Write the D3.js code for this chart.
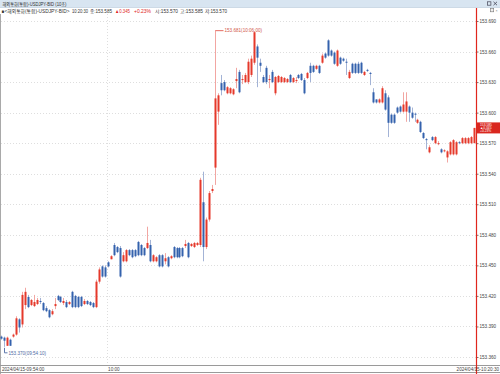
<!DOCTYPE html>
<html>
<head>
<meta charset="utf-8">
<script src="https://cdn.jsdelivr.net/npm/d3@7"></script>
<style>
  html, body { margin: 0; padding: 0; background: #fff; }
  svg { display: block; font-family: "Liberation Sans", "Noto Sans CJK KR", sans-serif; }
</style>
</head>
<body>
<script>
// 10s candles, USDJPY BID, 09:54:00 .. 10:20:30 (160 bars)
const opens = [
  153.380,153.379,153.371,153.377,153.380,153.382,153.397,153.392,153.411,153.419,
  153.411,153.410,153.412,153.415,153.413,153.408,153.406,153.402,153.410,153.420,
  153.419,153.413,153.414,153.412,153.424,153.420,153.419,153.419,153.412,153.415,
  153.414,153.413,153.409,153.434,153.449,153.448,153.453,153.456,153.470,153.468,
  153.467,153.454,153.454,153.465,153.465,153.465,153.473,153.470,153.467,153.467,
  153.470,153.454,153.454,153.460,153.460,153.454,153.458,153.457,153.468,153.467,
  153.467,153.467,153.469,153.472,153.469,153.468,153.470,153.470,153.512,153.468,
  153.495,153.523,153.546,153.601,153.629,153.630,153.619,153.619,153.618,153.631,
  153.640,153.632,153.630,153.630,153.637,153.649,153.665,153.649,153.635,153.644,
  153.632,153.640,153.619,153.630,153.630,153.630,153.630,153.637,153.630,153.632,
  153.637,153.638,153.632,153.634,153.646,153.646,153.643,153.646,153.649,153.658,
  153.671,153.661,153.659,153.646,153.654,153.653,153.650,153.634,153.648,153.648,
  153.648,153.649,153.637,153.642,153.639,153.620,153.613,153.610,153.610,153.619,
  153.615,153.598,153.598,153.605,153.606,153.601,153.601,153.606,153.600,153.599,
  153.590,153.591,153.580,153.574,153.561,153.576,153.570,153.570,153.564,153.562,
  153.556,153.559,153.559,153.559,153.571,153.570,153.570,153.570,153.570,153.570
];
const highs = [
  153.381,153.380,153.380,153.378,153.383,153.400,153.398,153.424,153.428,153.421,
  153.417,153.421,153.418,153.418,153.414,153.410,153.407,153.407,153.418,153.421,
  153.420,153.418,153.416,153.415,153.425,153.421,153.420,153.420,153.417,153.416,
  153.415,153.414,153.436,153.448,153.450,153.450,153.454,153.460,153.472,153.469,
  153.469,153.463,153.466,153.466,153.466,153.466,153.474,153.471,153.468,153.488,
  153.475,153.461,153.459,153.461,153.461,153.462,153.459,153.460,153.469,153.468,
  153.468,153.468,153.475,153.473,153.472,153.473,153.473,153.536,153.542,153.497,
  153.523,153.529,153.681,153.619,153.637,153.632,153.626,153.625,153.624,153.644,
  153.642,153.637,153.639,153.653,153.656,153.680,153.667,153.653,153.637,153.646,
  153.637,153.642,153.636,153.637,153.636,153.635,153.634,153.638,153.635,153.635,
  153.638,153.639,153.634,153.640,153.649,153.647,153.647,153.647,153.658,153.659,
  153.672,153.662,153.660,153.662,153.655,153.654,153.653,153.642,153.649,153.649,
  153.650,153.650,153.641,153.643,153.640,153.624,153.613,153.614,153.626,153.622,
  153.617,153.599,153.599,153.606,153.607,153.620,153.620,153.607,153.605,153.600,
  153.594,153.592,153.581,153.575,153.568,153.577,153.577,153.572,153.565,153.564,
  153.563,153.572,153.574,153.572,153.572,153.576,153.576,153.576,153.577,153.585
];
const lows = [
  153.377,153.370,153.371,153.371,153.379,153.381,153.384,153.389,153.407,153.408,
  153.410,153.409,153.411,153.412,153.405,153.404,153.398,153.401,153.407,153.415,
  153.413,153.411,153.408,153.411,153.408,153.408,153.408,153.409,153.411,153.411,
  153.410,153.408,153.408,153.432,153.438,153.438,153.448,153.456,153.459,153.462,
  153.438,153.453,153.453,153.459,153.457,153.458,153.459,153.459,153.459,153.466,
  153.453,153.453,153.453,153.448,153.448,153.451,153.448,153.456,153.457,153.457,
  153.457,153.458,153.467,153.457,153.468,153.467,153.469,153.468,153.454,153.466,
  153.493,153.521,153.529,153.588,153.617,153.621,153.618,153.618,153.617,153.624,
  153.619,153.628,153.629,153.628,153.635,153.647,153.625,153.640,153.629,153.628,
  153.624,153.629,153.617,153.629,153.629,153.629,153.629,153.629,153.629,153.629,
  153.633,153.631,153.618,153.633,153.630,153.639,153.642,153.638,153.648,153.653,
  153.655,153.655,153.647,153.645,153.647,153.650,153.637,153.633,153.638,153.638,
  153.638,153.638,153.636,153.640,153.627,153.609,153.609,153.609,153.609,153.602,
  153.576,153.589,153.589,153.599,153.600,153.600,153.591,153.591,153.594,153.591,
  153.589,153.580,153.574,153.564,153.560,153.572,153.569,153.568,153.560,153.561,
  153.551,153.558,153.558,153.558,153.569,153.569,153.569,153.569,153.569,153.570
];
const closes = [
  153.378,153.376,153.379,153.371,153.382,153.398,153.389,153.421,153.424,153.409,
  153.416,153.414,153.416,153.414,153.406,153.405,153.399,153.405,153.412,153.416,
  153.414,153.415,153.409,153.414,153.409,153.409,153.409,153.410,153.415,153.412,
  153.411,153.409,153.434,153.446,153.439,153.439,153.449,153.459,153.460,153.463,
  153.439,153.460,153.465,153.460,153.458,153.459,153.460,153.460,153.460,153.472,
  153.454,153.460,153.458,153.449,153.449,153.457,153.449,153.459,153.458,153.458,
  153.458,153.459,153.471,153.458,153.471,153.472,153.472,153.534,153.468,153.495,
  153.521,153.525,153.614,153.617,153.622,153.622,153.625,153.624,153.623,153.633,
  153.620,153.633,153.637,153.650,153.653,153.679,153.654,153.646,153.630,153.630,
  153.633,153.630,153.635,153.636,153.635,153.634,153.633,153.630,153.634,153.632,
  153.634,153.632,153.619,153.639,153.639,153.640,153.646,153.639,153.656,153.654,
  153.656,153.656,153.648,153.661,153.648,153.651,153.649,153.640,153.639,153.639,
  153.639,153.639,153.640,153.641,153.638,153.610,153.610,153.613,153.624,153.603,
  153.590,153.590,153.590,153.600,153.601,153.608,153.611,153.600,153.595,153.598,
  153.593,153.581,153.575,153.573,153.566,153.573,153.576,153.570,153.561,153.563,
  153.562,153.571,153.573,153.571,153.570,153.575,153.575,153.575,153.576,153.585
];

const yTicks = [153.360,153.390,153.420,153.450,153.480,153.510,153.540,153.570,153.600,153.630,153.660,153.690];
const xTickIndex = [0, 36, 159];
const xTickText = ['2024/04/15-09:54:00', '10:00', '2024/04/15-10:20:30'];

const highMark = { i: 72, text: '153.681(10:06:00)' };
const lowMark = { i: 1, text: '153.370(09:54:10)' };

const W = 500, H = 374;
const plotRight = 476;
const axisY = 365;

const UP = '#e5392b', DOWN = '#3462ad';
const UP_WICK = '#f2a6a2', DOWN_WICK = '#a3b3d6';

const svg = d3.select('body').append('svg')
  .attr('width', W).attr('height', H);

svg.append('rect').attr('width', W).attr('height', H).attr('fill', '#fff');

//scales
const x = d3.scaleBand().domain(d3.range(opens.length)).range([0, plotRight]);
const y = d3.scaleLinear().domain([153.360, 153.690]).range([357, 21]);
const cx = i => Math.floor(x(i) + x.bandwidth() / 2) + 0.5;

//grid
svg.append('g')
  .selectAll('line')
  .data(yTicks)
  .enter().append('line')
  .attr('x1', 1).attr('x2', plotRight)
  .attr('y1', d => Math.round(y(d)) + 0.5).attr('y2', d => Math.round(y(d)) + 0.5)
  .attr('stroke', '#dedede').attr('stroke-dasharray', '1,2');

svg.append('line')
  .attr('x1', Math.round(x(36)) + 0.5).attr('x2', Math.round(x(36)) + 0.5)
  .attr('y1', 14).attr('y2', axisY)
  .attr('stroke', '#dedede').attr('stroke-dasharray', '1,2');

//frame
svg.append('line').attr('x1', 0.5).attr('x2', 0.5).attr('y1', 14).attr('y2', H)
  .attr('stroke', '#a9a9a9');
svg.append('line').attr('x1', 0).attr('x2', W).attr('y1', axisY + 0.5).attr('y2', axisY + 0.5)
  .attr('stroke', '#9a9a9a');
svg.append('line').attr('x1', 0).attr('x2', W).attr('y1', H - 1.5).attr('y2', H - 1.5)
  .attr('stroke', '#9a9a9a');

//candles
const bars = svg.append('g').selectAll('g')
  .data(d3.range(opens.length))
  .enter().append('g');

bars.append('line')
  .attr('x1', cx).attr('x2', cx)
  .attr('y1', i => y(highs[i])).attr('y2', i => y(lows[i]))
  .attr('stroke', i => closes[i] >= opens[i] ? UP_WICK : DOWN_WICK)
  .attr('stroke-width', 1);

bars.append('rect')
  .attr('x', i => cx(i) - 1)
  .attr('width', 2)
  .attr('y', i => y(Math.max(opens[i], closes[i])))
  .attr('height', i => Math.max(1, Math.abs(y(opens[i]) - y(closes[i]))))
  .attr('fill', i => closes[i] >= opens[i] ? UP : DOWN);

//high / low marks
const hx = cx(highMark.i), hy = y(highs[highMark.i]);
svg.append('path')
  .attr('d', `M${hx},${hy + 0.5}H${hx + 8}`)
  .attr('stroke', '#e46a60').attr('fill', 'none');
svg.append('text')
  .attr('x', hx + 9).attr('y', hy + 1.8)
  .attr('font-size', 4.6).attr('fill', '#d2574c')
  .text(highMark.text);

const lx = cx(lowMark.i), ly = y(lows[lowMark.i]);
svg.append('path')
  .attr('d', `M${lx},${ly + 1}V${ly + 6}H${lx + 3}`)
  .attr('stroke', '#5f79ad').attr('fill', 'none');
svg.append('text')
  .attr('x', lx + 4).attr('y', ly + 7.8)
  .attr('font-size', 4.6).attr('fill', '#4f6aa3')
  .text(lowMark.text);

//y axis
const yAxis = d3.axisRight(y)
  .tickValues(yTicks)
  .tickSize(2)
  .tickFormat(d3.format('.3f'));

const ya = svg.append('g')
  .attr('transform', `translate(${plotRight + 0.5},0)`)
  .call(yAxis);
ya.select('.domain').remove();
ya.selectAll('.tick line').attr('stroke', '#777');
ya.selectAll('.tick text')
  .attr('x', 3).attr('font-size', 4.6).attr('fill', '#444')
  .attr('font-family', '"Liberation Sans", sans-serif');

svg.append('line')
  .attr('x1', plotRight + 0.5).attr('x2', plotRight + 0.5)
  .attr('y1', 8).attr('y2', H)
  .attr('stroke', '#e0261d').attr('stroke-width', 1.2);

//last price box
const last = closes[closes.length - 1];
const ly2 = y(last);
svg.append('rect')
  .attr('x', plotRight + 1).attr('y', ly2 - 5.5)
  .attr('width', W - plotRight - 1).attr('height', 11)
  .attr('fill', '#d9271f');
['153.585', '▲0.345', '+0.23%'].forEach((t, k) => {
  svg.append('text')
    .attr('x', plotRight + 4).attr('y', ly2 - 2.3 + k * 3.4)
    .attr('font-size', 3.3).attr('fill', '#fff')
    .text(t);
});

//x axis labels
svg.append('g').selectAll('text')
  .data(xTickIndex)
  .enter().append('text')
  .attr('x', (d, k) => k === 2 ? W - 1 : (k === 0 ? 2 : x(d) + 1))
  .attr('y', axisY + 6.3)
  .attr('text-anchor', (d, k) => k === 2 ? 'end' : 'start')
  .attr('font-size', 4.6).attr('fill', '#444')
  .text((d, k) => xTickText[k]);

//title bar
svg.append('rect').attr('x', 0).attr('y', 0).attr('width', W).attr('height', 7.5)
  .attr('fill', '#d8e5f1');
svg.append('line').attr('x1', 0).attr('x2', W).attr('y1', 7.5).attr('y2', 7.5)
  .attr('stroke', '#b9c9da').attr('stroke-width', 0.6);
svg.append('text').attr('x', 2.5).attr('y', 5.7)
  .attr('font-size', 5).attr('fill', '#333')
  .attr('textLength', 64).attr('lengthAdjust', 'spacingAndGlyphs')
  .text('해외통화(통합)-USDJPY-BID (10초)');

// window icons
svg.append('rect').attr('x', 487.5).attr('y', 1.8).attr('width', 3.4).attr('height', 3.4)
  .attr('fill', 'none').attr('stroke', '#445').attr('stroke-width', 0.7);
svg.append('path').attr('d', 'M493.5,1.8L497,5.2M497,1.8L493.5,5.2')
  .attr('stroke', '#445').attr('stroke-width', 0.8);
svg.append('rect').attr('x', 490.5).attr('y', 8.6).attr('width', 3.2).attr('height', 3.2)
  .attr('fill', '#eee').attr('stroke', '#777').attr('stroke-width', 0.6);
svg.append('text').attr('x', 495.5).attr('y', 11.6).attr('font-size', 3.6).attr('fill', '#777').text('×');

//info line
const info = [
  { x: 1.5, w: 2.5, t: '■', c: '#333' },
  { x: 4.5, w: 65, t: '<해외통화(통합)-USDJPY-BID>', c: '#333' },
  { x: 72, w: 16, t: '10:20:30', c: '#333' },
  { x: 90, w: 22, t: '종:153.585', c: '#333' },
  { x: 115, w: 15, t: '▲0.345', c: '#e0261d' },
  { x: 134, w: 17, t: '+0.23%', c: '#e0261d' },
  { x: 155, w: 23, t: '시:153.570', c: '#333' },
  { x: 180, w: 23, t: '고:153.585', c: '#333' },
  { x: 205, w: 22, t: '저:153.570', c: '#333' }
];
svg.append('g').selectAll('text')
  .data(info)
  .enter().append('text')
  .attr('x', d => d.x).attr('y', 12.6)
  .attr('font-size', 5).attr('fill', d => d.c)
  .attr('textLength', d => d.w).attr('lengthAdjust', 'spacingAndGlyphs')
  .text(d => d.t);
</script>
</body>
</html>
